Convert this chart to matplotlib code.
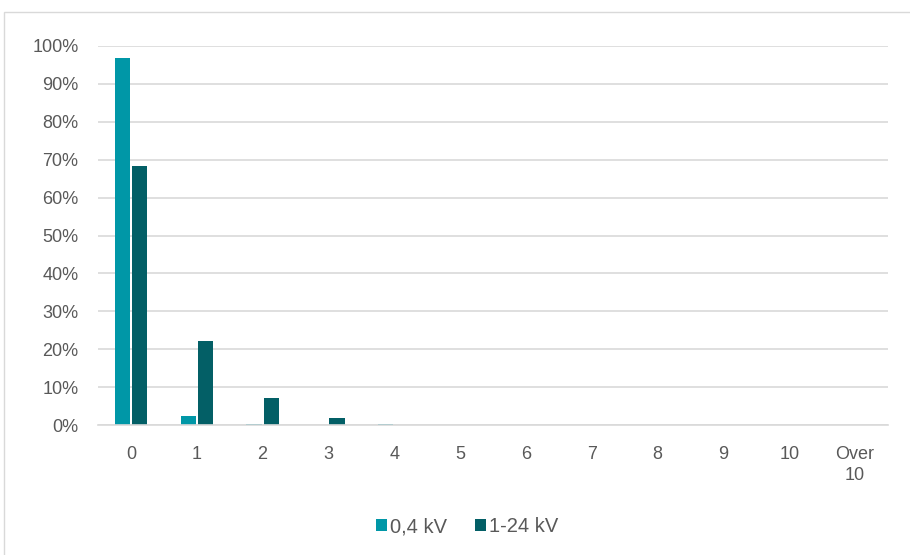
import numpy as np
import matplotlib.pyplot as plt
from matplotlib.patches import Rectangle

plt.rcParams['font.family'] = ['Liberation Sans', 'DejaVu Sans']

categories = ['0', '1', '2', '3', '4', '5', '6', '7', '8', '9', '10', 'Over\n10']
low_voltage = [96.8, 2.5, 0.3, 0.05, 0.3, 0, 0, 0, 0, 0, 0, 0]
mid_voltage = [68.3, 22.2, 7.1, 1.8, 0.1, 0, 0, 0, 0, 0, 0, 0]
series_names = ['0,4 kV', '1-24 kV']

c_low = '#0097A7'
c_mid = '#035F66'
txt = '#595959'

fig = plt.figure(figsize=(9.1, 5.55), dpi=100)
ax = fig.add_axes([98 / 910, 1 - 425 / 555, 790 / 910, 379 / 555])

# border round the chart
fig.patches.append(Rectangle((4 / 910, -0.01), 1.0, 1 - 12 / 555 + 0.01,
                             transform=fig.transFigure, fill=False,
                             edgecolor='#D9D9D9', linewidth=1))

x = np.arange(len(categories))
w = 0.23
ax.bar(x - w / 2 - 0.015, low_voltage, w, color=c_low, label=series_names[0])
ax.bar(x + w / 2 + 0.015, mid_voltage, w, color=c_mid, label=series_names[1])

ax.set_xlim(-0.5, len(categories) - 0.5)
ax.set_ylim(0, 100)
ax.set_yticks(np.arange(0, 101, 10))
ax.set_yticklabels([f'{v}%' for v in range(0, 101, 10)])
ax.set_xticks(x)
ax.set_xticklabels(categories, linespacing=1.3)
ax.yaxis.grid(True, color='#D9D9D9', linewidth=1.2)
ax.set_axisbelow(True)
for s in ['top', 'right', 'left']:
    ax.spines[s].set_visible(False)
ax.spines['bottom'].set_color('#D9D9D9')
ax.spines['bottom'].set_linewidth(1.2)
ax.tick_params(length=0, labelsize=13, colors=txt)
ax.tick_params(axis='x', pad=15)
ax.tick_params(axis='y', pad=14)

fig.legend(loc='center', bbox_to_anchor=(467 / 910, 1 - 527 / 555), ncol=2,
           frameon=False, fontsize=14.5, labelcolor=txt, handlelength=0.55,
           handleheight=0.55, handletextpad=0.15, columnspacing=1.4)

fig.savefig('out.png', dpi=100)
